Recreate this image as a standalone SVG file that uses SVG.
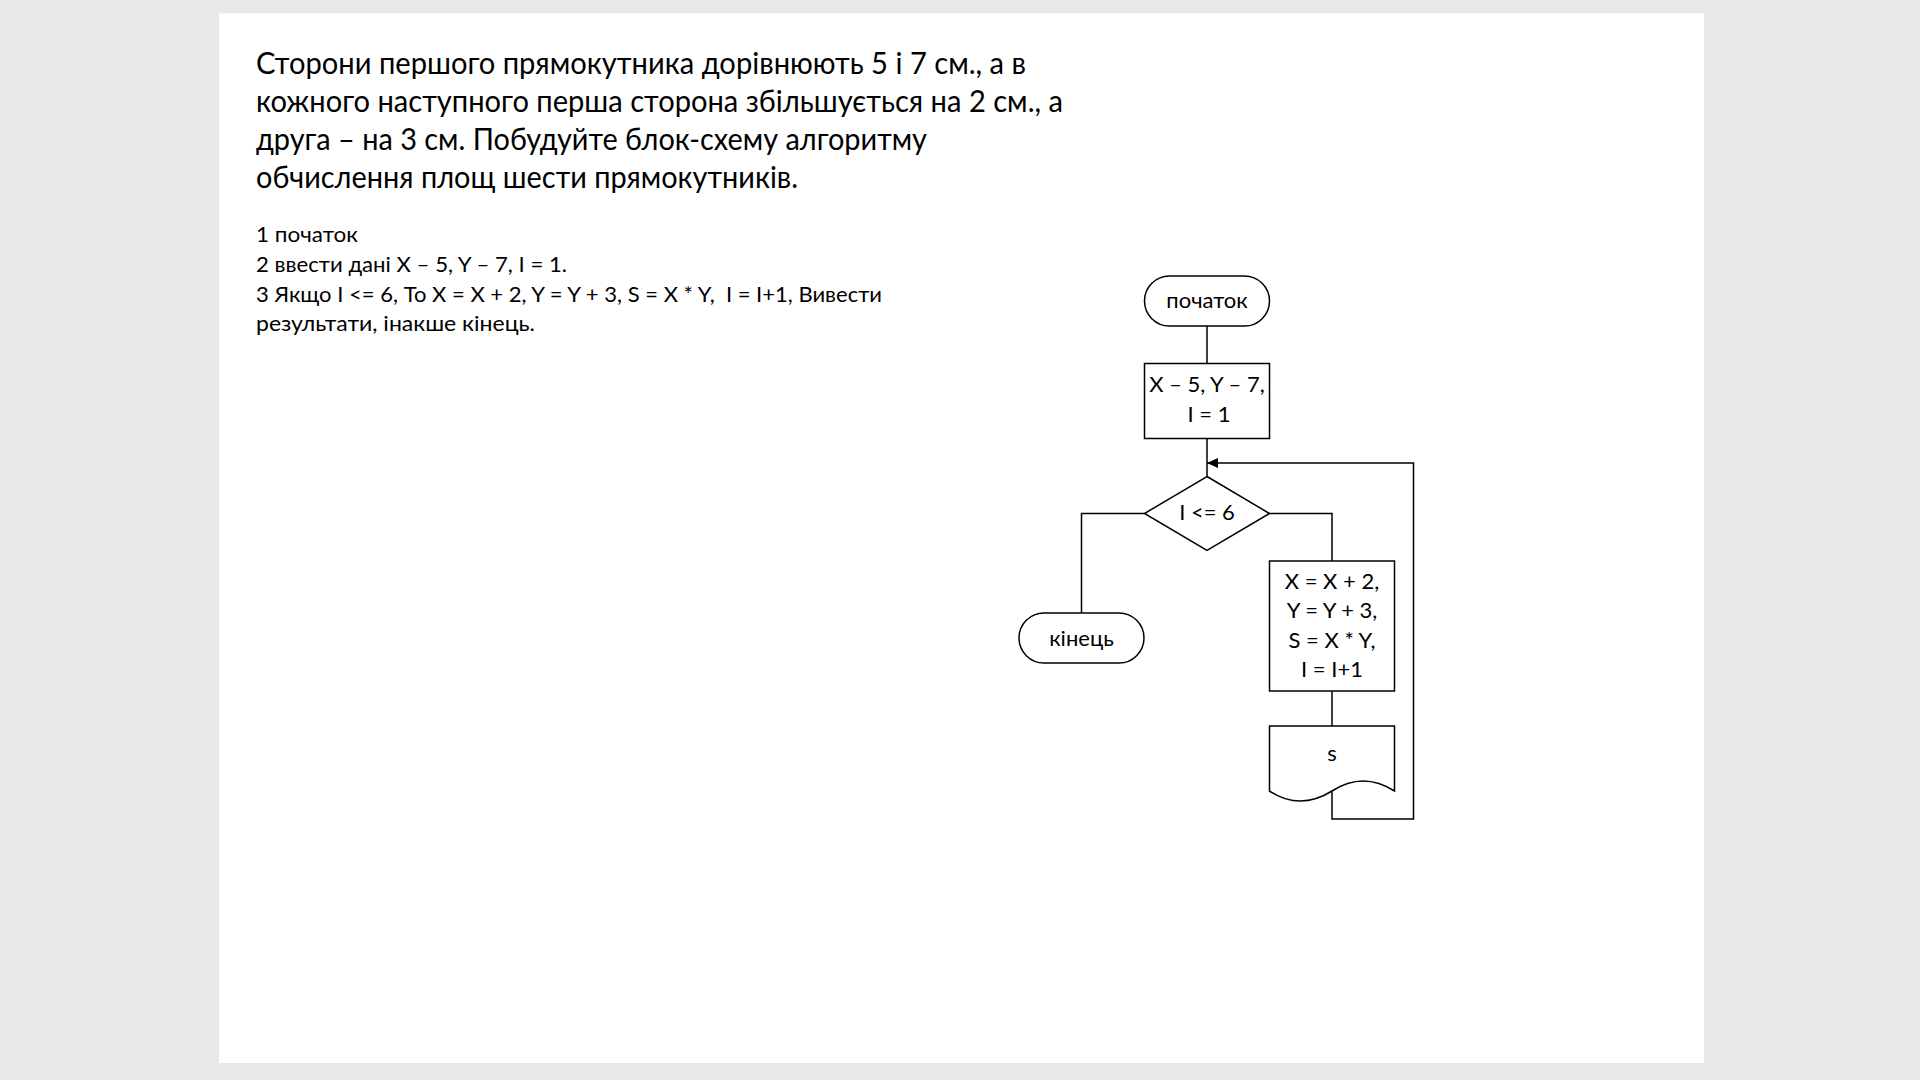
<svg xmlns="http://www.w3.org/2000/svg" width="1920" height="1080" viewBox="0 0 1920 1080">
<defs>
<style>
.bg{fill:#e9e9e9}
.slide{fill:#ffffff}
.shape{fill:#ffffff;stroke:#000000;stroke-width:1.5}
.conn{fill:none;stroke:#000000;stroke-width:1.5}
.t{font-family:Lato,"Liberation Sans","Noto Sans",sans-serif;fill:#000000}
.title{font-size:30px}
.step{font-size:21.5px}
.nt{font-size:22px;text-anchor:middle}
</style>
<marker id="arr" markerWidth="12" markerHeight="10" refX="11" refY="5" orient="auto" markerUnits="userSpaceOnUse">
<path d="M0,0 L11,5 L0,10 Z" fill="#000000"/>
</marker>
</defs>
<rect class="bg" x="0" y="0" width="1920" height="1080"/>
<rect class="slide" x="219" y="13.5" width="1485" height="1049.5"/>
<g id="title-text" class="t title">
<text x="256" y="74" textLength="770" lengthAdjust="spacingAndGlyphs">Сторони першого прямокутника дорівнюють 5 і 7 см., а в</text>
<text x="256" y="112" textLength="807" lengthAdjust="spacingAndGlyphs">кожного наступного перша сторона збільшується на 2 см., а</text>
<text x="256" y="150" textLength="671" lengthAdjust="spacingAndGlyphs">друга – на 3 см. Побудуйте блок-схему алгоритму</text>
<text x="256" y="188" textLength="542" lengthAdjust="spacingAndGlyphs">обчислення площ шести прямокутників.</text>
</g>
<g id="steps-text" class="t step">
<text x="256" y="242" textLength="102" lengthAdjust="spacingAndGlyphs">1 початок</text>
<text x="256" y="272" textLength="311" lengthAdjust="spacingAndGlyphs">2 ввести дані X – 5, Y – 7, I = 1.</text>
<text x="256" y="301.5" textLength="626" lengthAdjust="spacingAndGlyphs" xml:space="preserve">3 Якщо I &lt;= 6, То X = X + 2, Y = Y + 3, S = X * Y,  I = I+1, Вивести</text>
<text x="256" y="331" textLength="279" lengthAdjust="spacingAndGlyphs">результати, інакше кінець.</text>
</g>
<g id="connectors">
<path class="conn" d="M1207,326 V363.5"/>
<path class="conn" d="M1207,438.5 V476.5"/>
<path class="conn" d="M1144.5,513.5 H1081.5 V613"/>
<path class="conn" d="M1269.5,513.5 H1332 V561"/>
<path class="conn" d="M1332,691 V726"/>
<path class="conn" d="M1332,791 V819 H1413.5 V463 H1207" marker-end="url(#arr)"/>
</g>
<g id="start">
<rect class="shape" x="1144.5" y="276" width="125" height="50" rx="25" ry="25"/>
<text class="t nt" x="1207" y="308">початок</text>
</g>
<g id="init">
<rect class="shape" x="1144.5" y="363.5" width="125" height="75"/>
<text class="t nt" x="1207" y="392">X – 5, Y – 7,</text>
<text class="t nt" x="1209" y="422">I = 1</text>
</g>
<g id="decision">
<polygon class="shape" points="1207,476.5 1269.5,513.5 1207,550.5 1144.5,513.5"/>
<text class="t nt" x="1207" y="519.5">I &lt;= 6</text>
</g>
<g id="end">
<rect class="shape" x="1019" y="613" width="125" height="50" rx="25" ry="25"/>
<text class="t nt" x="1081.5" y="646">кінець</text>
</g>
<g id="process">
<rect class="shape" x="1269.5" y="561" width="125" height="130"/>
<text class="t nt" x="1332" y="588.5">X = X + 2,</text>
<text class="t nt" x="1332" y="618">Y = Y + 3,</text>
<text class="t nt" x="1332" y="647.5">S = X * Y,</text>
<text class="t nt" x="1332" y="677">I = I+1</text>
</g>
<g id="output">
<path class="shape" d="M1269.5,726 H1394.5 V791 Q1363,771 1332,791 Q1300,811 1269.5,791 Z"/>
<text class="t nt" x="1332" y="760.5">s</text>
</g>
</svg>
